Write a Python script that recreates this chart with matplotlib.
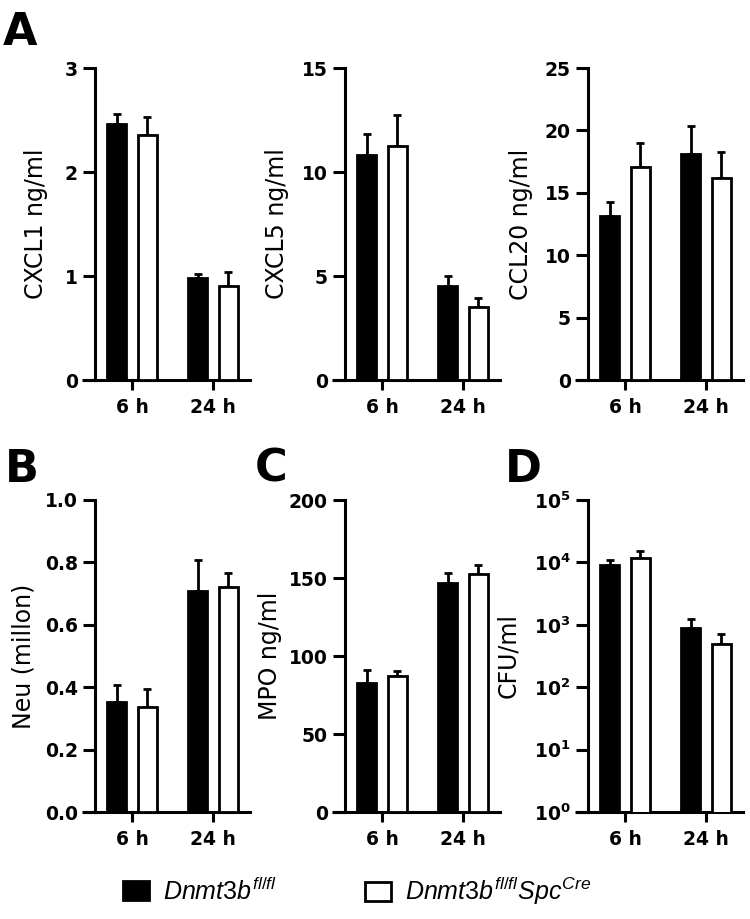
import matplotlib.pyplot as plt
import numpy as np
from matplotlib.patches import Patch
from matplotlib.lines import Line2D
from matplotlib.ticker import MultipleLocator, FormatStrFormatter, NullLocator

plt.rcParams['font.family'] = 'DejaVu Sans'
plt.rcParams['mathtext.fontset'] = 'custom'
plt.rcParams['mathtext.it'] = 'Liberation Sans:italic'
plt.rcParams['mathtext.rm'] = 'Liberation Sans'
plt.rcParams['mathtext.bf'] = 'DejaVu Sans:bold'

groups = ['6 h', '24 h']

# Dnmt3b fl/fl (black) and Dnmt3b fl/fl Spc-Cre (white), mean and upper SEM
cxcl1_flox, cxcl1_flox_err = [2.46, 0.98], [0.10, 0.04]
cxcl1_cre, cxcl1_cre_err = [2.36, 0.90], [0.17, 0.14]
cxcl5_flox, cxcl5_flox_err = [10.8, 4.5], [1.05, 0.52]
cxcl5_cre, cxcl5_cre_err = [11.25, 3.51], [1.5, 0.43]
ccl20_flox, ccl20_flox_err = [13.15, 18.1], [1.15, 2.25]
ccl20_cre, ccl20_cre_err = [17.07, 16.2], [1.93, 2.1]
neu_flox, neu_flox_err = [0.354, 0.707], [0.054, 0.10]
neu_cre, neu_cre_err = [0.336, 0.72], [0.058, 0.047]
mpo_flox, mpo_flox_err = [83, 147], [8, 6]
mpo_cre, mpo_cre_err = [87, 152.4], [3.5, 6]
cfu_flox, cfu_flox_err = [9200, 885], [1800, 365]
cfu_cre, cfu_cre_err = [11700, 490], [3700, 210]

legend_labels = [r'$\mathit{Dnmt3b}^{\mathit{fl/fl}}$',
                 r'$\mathit{Dnmt3b}^{\mathit{fl/fl}}\mathit{Spc}^{\mathit{Cre}}$']

W, H = 750, 919
fig = plt.figure(figsize=(7.5, 9.19), dpi=100)
AXW = 155


def make_ax(x0, ytop, ybot):
    return fig.add_axes([x0 / W, (H - ybot) / H, AXW / W, (ybot - ytop) / H])


def draw(ax, flox, flox_err, cre, cre_err, ylabel, label_off):
    x = np.arange(len(groups))
    kw = dict(width=0.235, edgecolor='black', linewidth=2, zorder=3)
    ax.bar(x - 0.19, flox, color='black', **kw)
    ax.bar(x + 0.19, cre, color='white', **kw)
    ekw = dict(fmt='none', ecolor='black', elinewidth=2, capsize=3, capthick=2, zorder=2)
    ax.errorbar(x - 0.19, flox, yerr=[np.zeros(len(x)), flox_err], **ekw)
    ax.errorbar(x + 0.19, cre, yerr=[np.zeros(len(x)), cre_err], **ekw)
    ax.set_xlim(-0.46, 1.46)
    for s in ['top', 'right']:
        ax.spines[s].set_visible(False)
    for s in ['left', 'bottom']:
        ax.spines[s].set_linewidth(2.2)
    ax.set_xticks(x, groups)
    ax.tick_params(axis='y', length=9, width=2.2, labelsize=13.5, pad=3.5)
    ax.tick_params(axis='x', length=7, width=2.2, labelsize=13.5, pad=6)
    ax.set_ylabel(ylabel, fontsize=17, va='center')
    ax.yaxis.set_label_coords(-label_off / AXW, 0.5)
    ax.add_line(Line2D([-13 / AXW, 0], [0, 0], transform=ax.transAxes, clip_on=False,
                       color='black', lw=2.2, solid_capstyle='butt'))


# row 1
ax = make_ax(95, 68, 380)
draw(ax, cxcl1_flox, cxcl1_flox_err, cxcl1_cre, cxcl1_cre_err, 'CXCL1 ng/ml', 59)
ax.set_ylim(0, 3)
ax.yaxis.set_major_locator(MultipleLocator(1))

ax = make_ax(345, 68, 380)
draw(ax, cxcl5_flox, cxcl5_flox_err, cxcl5_cre, cxcl5_cre_err, 'CXCL5 ng/ml', 68)
ax.set_ylim(0, 15)
ax.yaxis.set_major_locator(MultipleLocator(5))

ax = make_ax(588, 68, 380)
draw(ax, ccl20_flox, ccl20_flox_err, ccl20_cre, ccl20_cre_err, 'CCL20 ng/ml', 67)
ax.set_ylim(0, 25)
ax.yaxis.set_major_locator(MultipleLocator(5))

# row 2
ax = make_ax(95, 500, 812)
draw(ax, neu_flox, neu_flox_err, neu_cre, neu_cre_err, 'Neu (millon)', 72)
ax.set_ylim(0, 1)
ax.yaxis.set_major_locator(MultipleLocator(0.2))
ax.yaxis.set_major_formatter(FormatStrFormatter('%.1f'))

ax = make_ax(345, 500, 812)
draw(ax, mpo_flox, mpo_flox_err, mpo_cre, mpo_cre_err, 'MPO ng/ml', 75)
ax.set_ylim(0, 200)
ax.yaxis.set_major_locator(MultipleLocator(50))

ax = make_ax(588, 500, 812)
ax.set_yscale('log')
draw(ax, cfu_flox, cfu_flox_err, cfu_cre, cfu_cre_err, 'CFU/ml', 80)
ax.set_ylim(1, 1e5)
exps = range(6)
ax.set_yticks([10.0 ** k for k in exps], [r'$\mathbf{10^{%d}}$' % k for k in exps])
ax.yaxis.set_minor_locator(NullLocator())

# bold tick labels
for a in fig.axes:
    for lbl in a.get_xticklabels() + a.get_yticklabels():
        lbl.set_fontweight('bold')

# panel letters
for letter, px, py in [('A', 3, 45), ('B', 5, 482), ('C', 255, 482), ('D', 505, 482)]:
    fig.text(px / W, 1 - py / H, letter, fontsize=32, fontweight='bold', va='baseline')

handles = [Patch(facecolor='black', edgecolor='black', linewidth=2),
           Patch(facecolor='white', edgecolor='black', linewidth=2)]
for h, lab, px in zip(handles, legend_labels, [123, 365]):
    fig.legend([h], [lab], loc='center left', bbox_to_anchor=(px / W, 1 - 891 / H),
               frameon=False, fontsize=18, handlelength=1.05, handleheight=0.8,
               handletextpad=0.55, borderpad=0, borderaxespad=0)

fig.savefig('out.png', dpi=100)
